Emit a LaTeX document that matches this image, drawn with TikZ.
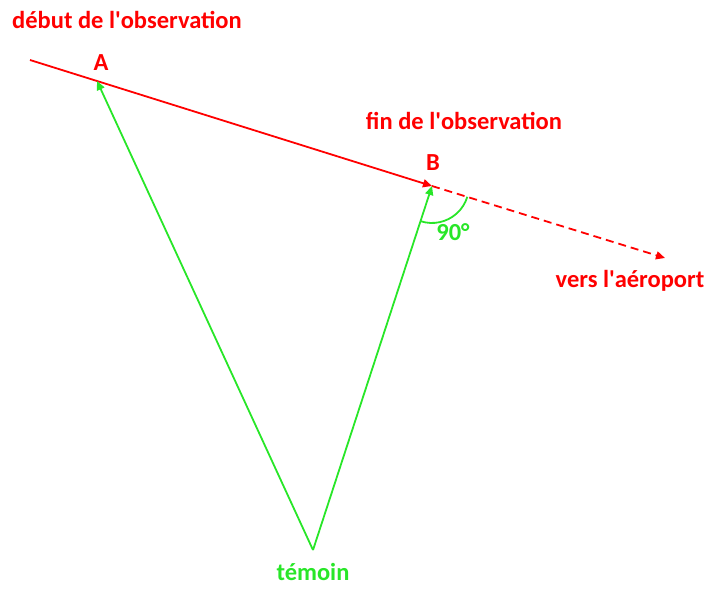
\documentclass[tikz,border=0pt]{standalone}
\usepackage{fontspec}
\setmainfont{Carlito}
\newfontfamily\droit{Carlito}[Ligatures=TeXOff]
\usepackage{tikz}
\usetikzlibrary{positioning,arrows.meta,calc}

\definecolor{rouge}{RGB}{255,0,0}
\definecolor{vert}{RGB}{40,230,40}
\newcommand{\apos}{{\droit\bfseries'}}

\begin{document}
\begin{tikzpicture}[x=1pt,y=-1pt,>={Triangle[length=9pt,width=8pt]},
    lab/.style={font=\bfseries\fontsize{24.5}{28}\selectfont,inner sep=1pt},
    trait/.style={line width=1.8pt}]
			
			\useasboundingbox (0,0) rectangle (709,589);
			
			\coordinate (debut) at (30,60);
			\coordinate (A) at (97,81);
			\coordinate (B) at (432,186);
			\coordinate (fin) at (665,258);
			\coordinate (T) at (313,550);
			
			\node[lab,text=rouge] (tdebut) at (127,20) {début de l\apos observation};
			\node[lab,text=rouge] (tfin) at (464,121) {fin de l\apos observation};
			\node[lab,text=rouge] (tA) at (101,63) {A};
			\node[lab,text=rouge] (tB) at (433,163) {B};
			\node[lab,text=rouge] (taero) at (630,281) {vers l\apos aéroport};
			\node[lab,text=vert] (ttemoin) at (313,572) {témoin};
			\node[lab,text=vert] (tangle) at (453,232) {90°};
			
			\draw[trait,rouge,->] (debut)--(B);
			\draw[trait,rouge,dash pattern=on 8pt off 5pt,->] (B)--(fin);
			
			\draw[trait,vert,->] (T)--(A);
			\draw[trait,vert,->] (T)--(B);
			
			\draw[trait,vert] ($(B)!37pt!(T)$) arc[start angle=-108,end angle=-17,radius=37pt];
			
		\end{tikzpicture}
\end{document}
